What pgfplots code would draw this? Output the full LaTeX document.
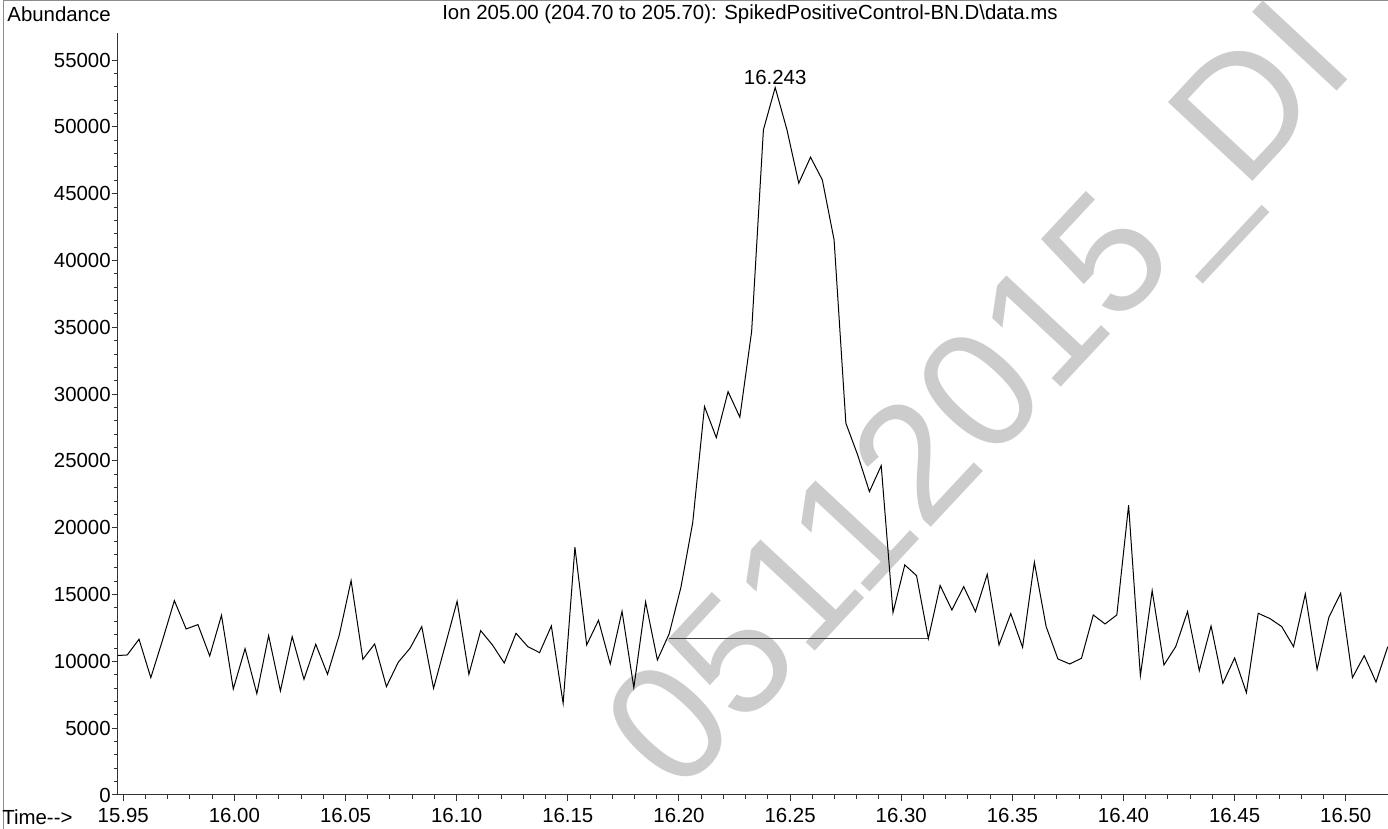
\documentclass[border=0pt]{standalone}
\usepackage{fontspec}
\setmainfont{Liberation Sans}
\usepackage{pgfplots}
\pgfplotsset{compat=1.18}
\usepackage{pgfplotstable}
\pgfplotstableread{
t v
15.9465 10427
15.9518 10479
15.9571 11654
15.9624 8782
15.9677 11600
15.9730 14546
15.9783 12425
15.9836 12750
15.9889 10404
15.9942 13450
15.9995 7934
16.0048 10953
16.0101 7583
16.0154 11927
16.0207 7784
16.0260 11852
16.0313 8657
16.0366 11278
16.0419 9032
16.0472 11976
16.0525 16043
16.0578 10155
16.0631 11302
16.0684 8108
16.0737 9930
16.0790 10978
16.0843 12600
16.0896 7984
16.0949 11228
16.1002 14497
16.1055 9032
16.1108 12300
16.1161 11228
16.1214 9880
16.1267 12101
16.1320 11103
16.1373 10654
16.1426 12650
16.1479 6861
16.1532 18540
16.1585 11228
16.1638 13074
16.1691 9805
16.1744 13749
16.1797 8033
16.1850 14446
16.1903 10105
16.1956 12060
16.2009 15550
16.2062 20384
16.2115 29066
16.2168 26746
16.2221 30189
16.2274 28270
16.2327 34680
16.2380 49775
16.2433 52943
16.2486 49775
16.2539 45785
16.2592 47731
16.2645 46033
16.2698 41542
16.2751 27822
16.2804 25449
16.2857 22702
16.2910 24648
16.2963 13648
16.3016 17216
16.3069 16416
16.3122 11700
16.3175 15680
16.3228 13847
16.3281 15594
16.3334 13724
16.3387 16517
16.3440 11228
16.3493 13574
16.3546 11053
16.3599 17416
16.3652 12600
16.3705 10180
16.3758 9805
16.3811 10230
16.3864 13473
16.3917 12799
16.3970 13473
16.4023 21682
16.4076 8932
16.4129 15295
16.4182 9730
16.4235 11103
16.4288 13724
16.4341 9306
16.4394 12650
16.4447 8358
16.4500 10254
16.4553 7659
16.4606 13599
16.4659 13200
16.4712 12600
16.4765 11103
16.4818 15045
16.4871 9406
16.4924 13300
16.4977 15095
16.5030 8782
16.5083 10427
16.5136 8458
16.5189 11100
}\datatable
\begin{document}
\begin{tikzpicture}
\path[use as bounding box] (0,0) rectangle (694pt,414.5pt);
\draw[black!45, line width=0.5pt] (1.5pt,0) -- (1.5pt,414pt) -- (694pt,414pt);
\node[rotate=47, anchor=west, inner sep=0pt, text=black!20, font=\fontsize{84}{90}\selectfont] at (324pt,30pt) {05112015\_DI};
\begin{axis}[
  at={(58.85pt,17pt)}, anchor=south west,
  scale only axis, width=635.15pt, height=380.85pt,
  xmin=15.9475, xmax=16.519, ymin=0, ymax=57000,
  axis x line=bottom, axis y line=left,
  axis line style={-, line width=0.5pt, black!80},
  scaled y ticks=false, scaled x ticks=false,
  xtick={15.95,16.00,16.05,16.10,16.15,16.20,16.25,16.30,16.35,16.40,16.45,16.50},
  xticklabels={15.95,16.00,16.05,16.10,16.15,16.20,16.25,16.30,16.35,16.40,16.45,16.50},
  minor x tick num=4,
  ytick={0,5000,10000,15000,20000,25000,30000,35000,40000,45000,50000,55000},
  yticklabels={0,5000,10000,15000,20000,25000,30000,35000,40000,45000,50000,55000},
  minor y tick num=4,
  tick align=outside, major tick length=3pt, minor tick length=1.8pt,
  tick style={black!80, line width=0.5pt},
  ticklabel style={font=\fontsize{10.2}{12}\selectfont},
  yticklabel style={xshift=3pt},
  clip=true,
]
\addplot[black!75, line width=0.5pt] coordinates {(16.1956,11680) (16.3122,11680)};
\addplot[black, line width=0.5pt, line join=miter] table[x=t, y=v] {\datatable};
\node[anchor=south, font=\fontsize{10.2}{12}\selectfont, inner sep=1pt] at (axis cs:16.2433,52943) {16.243};
\end{axis}
\node[anchor=west, font=\fontsize{10.2}{12}\selectfont, inner sep=0pt] at (3.5pt,407.5pt) {Abundance};
\node[font=\fontsize{10.2}{12}\selectfont, inner sep=0pt] at (375pt,407.5pt) {Ion 205.00 (204.70 to 205.70): SpikedPositiveControl-BN.D\textbackslash data.ms};
\node[anchor=west, font=\fontsize{10.2}{12}\selectfont, inner sep=0pt] at (1pt,6pt) {Time-{}-{}>};
\end{tikzpicture}
\end{document}
